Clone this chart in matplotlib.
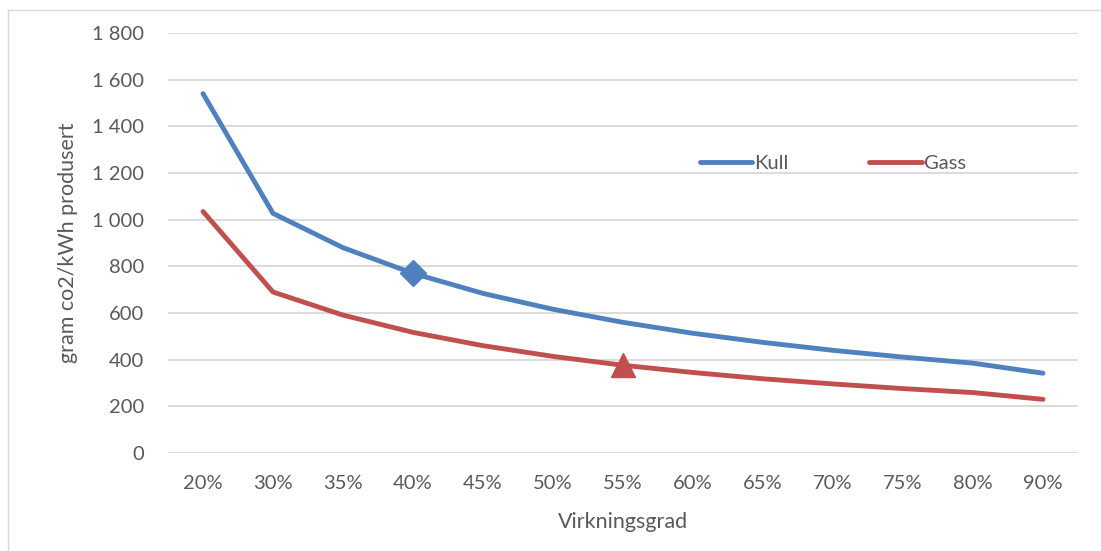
import matplotlib.pyplot as plt
from matplotlib.ticker import FuncFormatter
from matplotlib.lines import Line2D

# === data
virkningsgrad = ["20%", "30%", "35%", "40%", "45%", "50%", "55%",
                 "60%", "65%", "70%", "75%", "80%", "90%"]
kull = [1540, 1027, 880, 770, 684, 616, 560, 513, 474, 440, 411, 385, 342]
gass = [1035, 690, 591, 517, 460, 414, 376, 345, 318, 296, 276, 259, 230]

blue = "#4F81BD"
red = "#C0504D"
txt = "#595959"
grid = "#D9D9D9"

plt.rcParams["font.family"] = ["Lato", "DejaVu Sans"]

fig = plt.figure(figsize=(11.01, 5.51), dpi=100, facecolor="white")
ax = fig.add_axes([168 / 1101, 1 - 453 / 551, (1078 - 168) / 1101, (453 - 33) / 551])

x = list(range(len(virkningsgrad)))
ax.plot(x, kull, color=blue, linewidth=3.5, solid_capstyle="round",
        marker="D", markersize=13, markevery=[3], label="Kull", zorder=3)
ax.plot(x, gass, color=red, linewidth=3.5, solid_capstyle="round",
        marker="^", markersize=17, markevery=[6], label="Gass", zorder=3)

ax.set_xlim(-0.5, len(x) - 0.5)
ax.set_ylim(0, 1800)
ax.set_yticks(range(0, 1801, 200))
ax.yaxis.set_major_formatter(FuncFormatter(lambda v, p: f"{int(v):,}".replace(",", " ")))
ax.set_xticks(x)
ax.set_xticklabels(virkningsgrad)

ax.grid(axis="y", color=grid, linewidth=1.3)
ax.set_axisbelow(True)
for s in ax.spines.values():
    s.set_visible(False)
ax.tick_params(length=0, labelsize=14.5, colors=txt, pad=17)
ax.tick_params(axis="x", pad=16)

ax.set_ylabel("gram co2/kWh produsert", fontsize=15.5, color=txt, labelpad=10)
ax.set_xlabel("Virkningsgrad", fontsize=15.5, color=txt, labelpad=14)

handles = [Line2D([], [], color=blue, linewidth=3.5, solid_capstyle="round"),
           Line2D([], [], color=red, linewidth=3.5, solid_capstyle="round")]
leg = ax.legend(handles, ["Kull", "Gass"], ncol=2, frameon=False, fontsize=14.5,
                handlelength=2.6, handletextpad=0.1, columnspacing=4.0,
                loc="center left", bbox_to_anchor=(682 / 1101, 1 - 163 / 551),
                bbox_transform=fig.transFigure, labelcolor=txt)

# ramme (topp og venstre) som i skjermbildet
fig.add_artist(Line2D([8 / 1101, 1], [1 - 10 / 551, 1 - 10 / 551], color=grid,
                      linewidth=1.0, transform=fig.transFigure))
fig.add_artist(Line2D([8 / 1101, 8 / 1101], [0, 1 - 10 / 551], color=grid,
                      linewidth=1.0, transform=fig.transFigure))

plt.savefig("out.png", dpi=100, facecolor="white")
